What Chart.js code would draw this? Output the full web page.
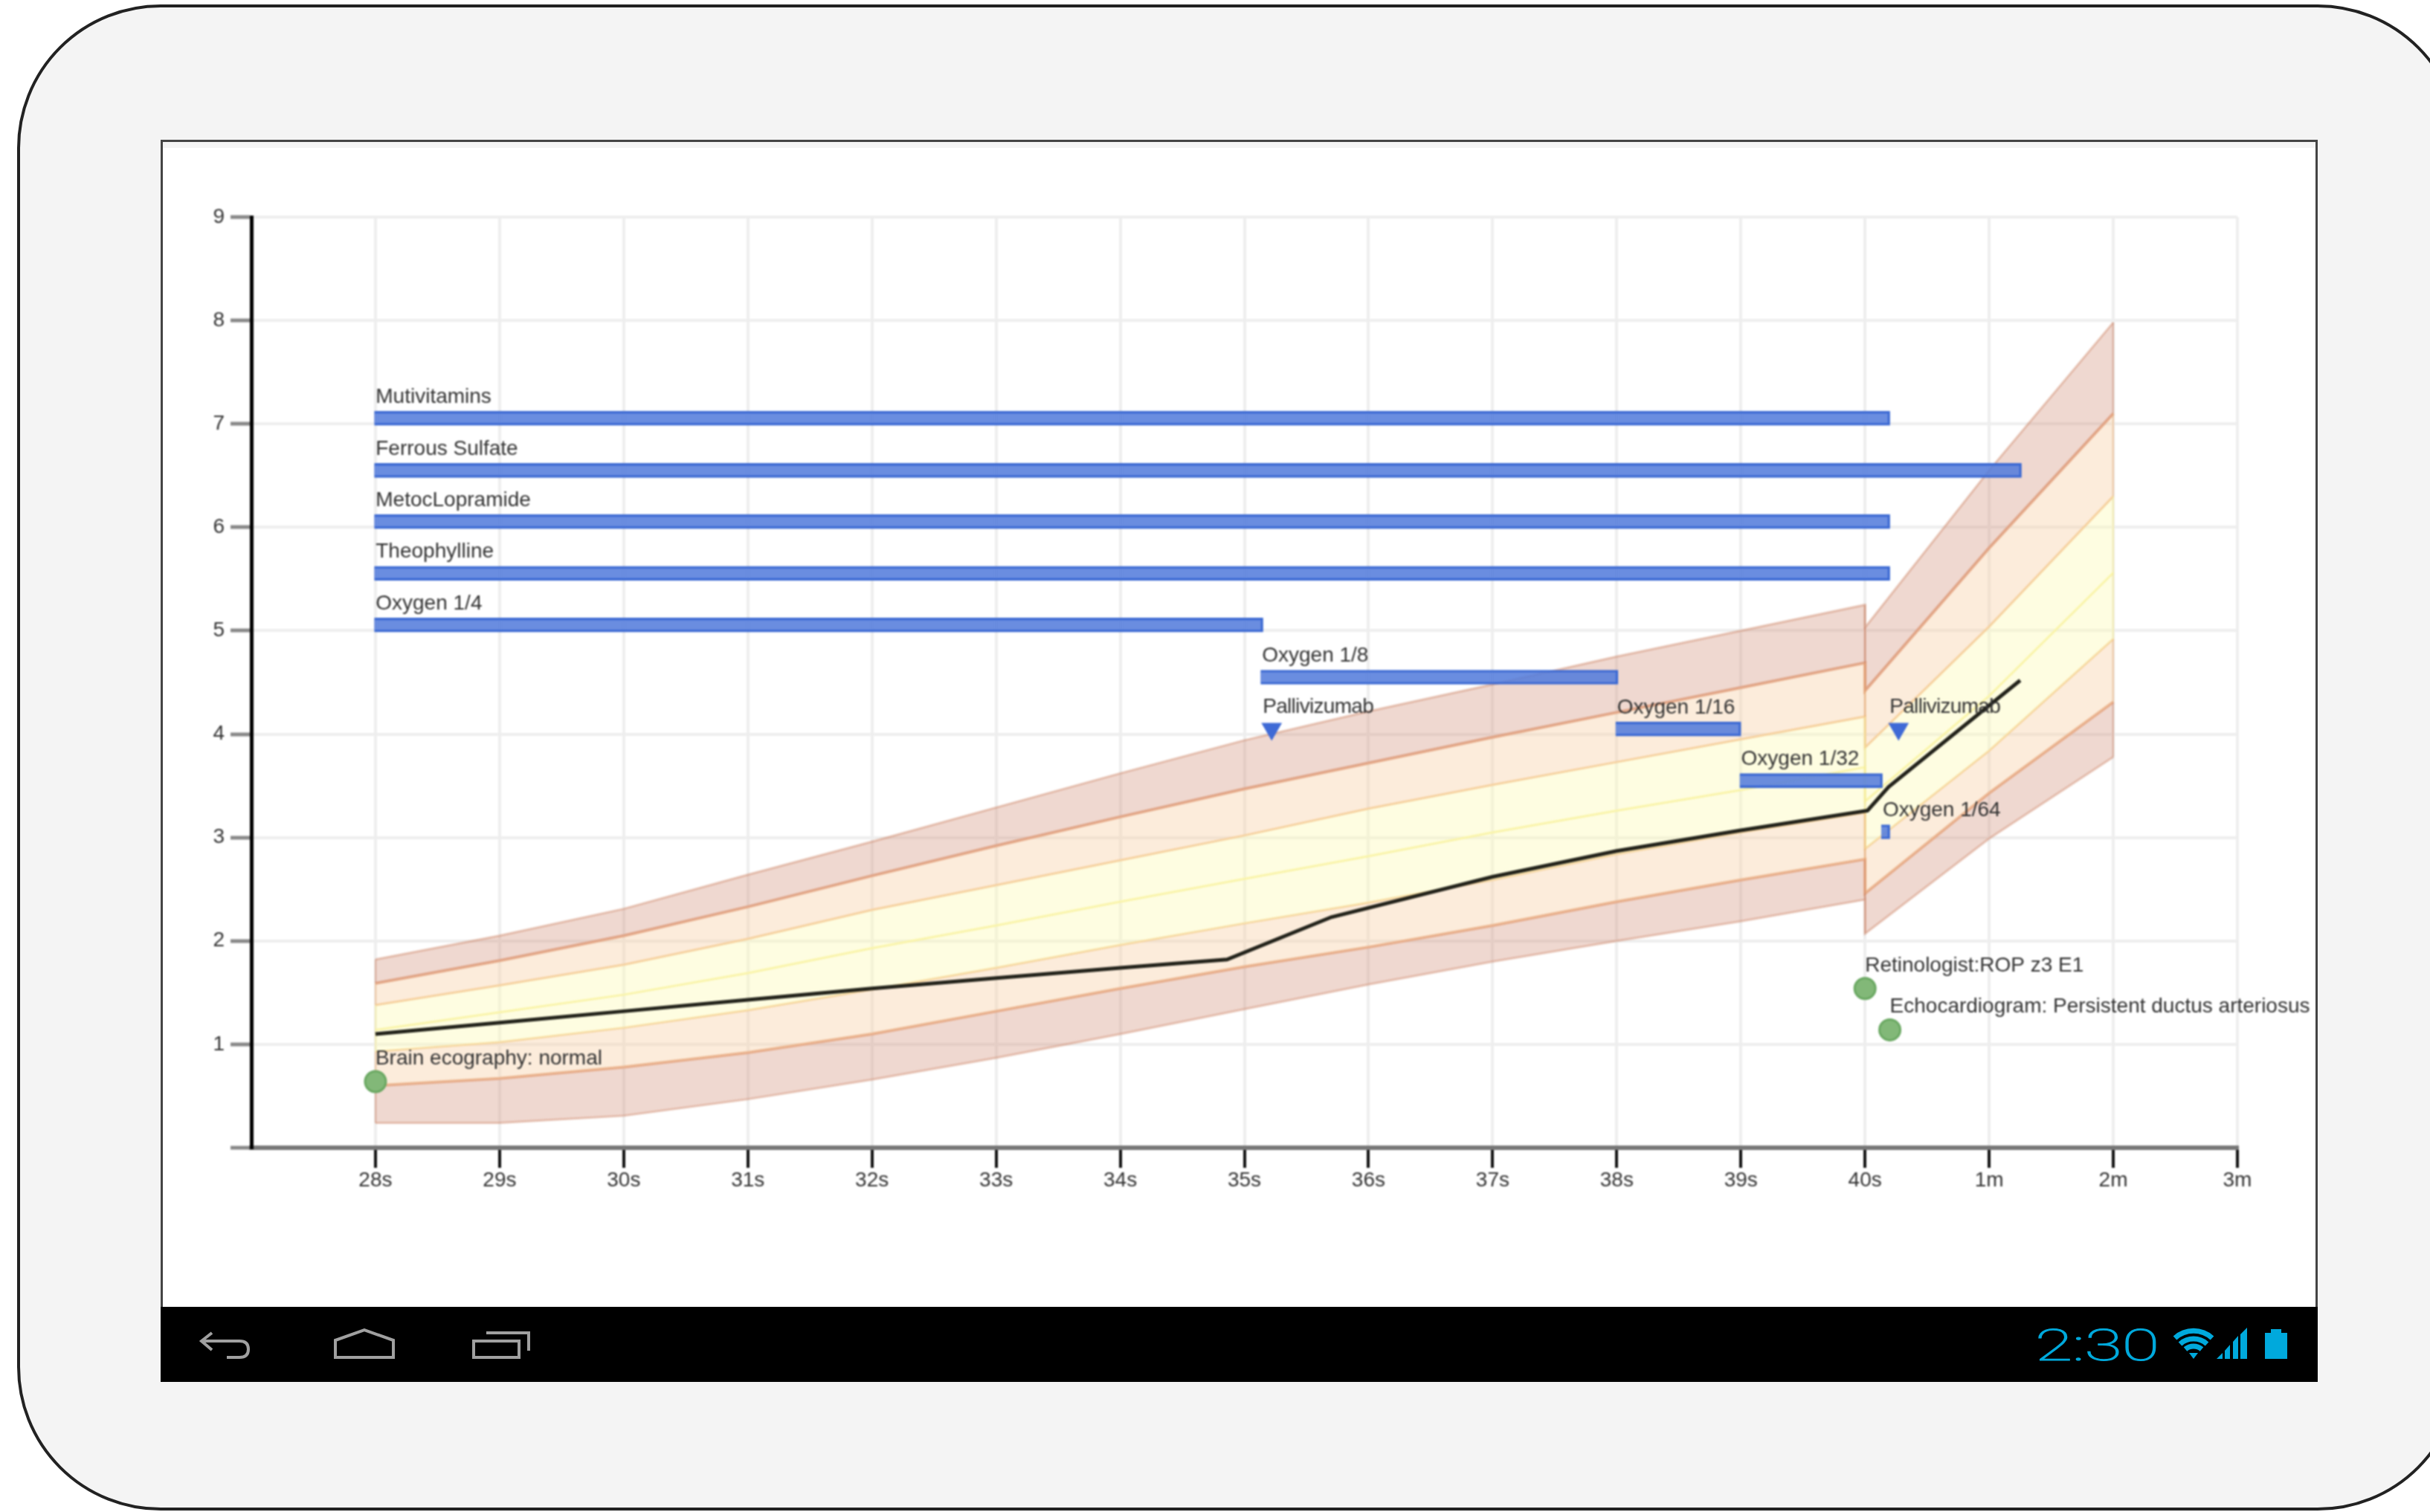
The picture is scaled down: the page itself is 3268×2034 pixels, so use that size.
<!DOCTYPE html>
<html>
<head>
<meta charset="utf-8">
<title>Growth chart</title>
<script src="https://cdn.jsdelivr.net/npm/chart.js@4.4.1/dist/chart.umd.min.js"></script>
<style>
  html, body { margin: 0; padding: 0; width: 3268px; height: 2034px; overflow: hidden; background: #fff; }
  #device { position: absolute; left: 23px; top: 6px; width: 3287px; height: 2026px; box-sizing: border-box;
            border: 4px solid #222; border-radius: 193px; background: #f4f4f4; }
  #screen { position: absolute; left: 216px; top: 188px; width: 2901px; height: 1571px; box-sizing: border-box;
            border: 3px solid #444; border-bottom: 0; background: #fff; }
  #strip { position: absolute; left: 219px; top: 191px; width: 2895px; height: 8px; background: #f4f4f4; }
  #nav { position: absolute; left: 0; top: 0; filter: blur(0.7px); }
  canvas { position: absolute; left: 0; top: 0; filter: blur(1.1px); }
</style>
</head>
<body>
<div id="device"></div>
<div id="screen"></div>
<div id="strip"></div>
<svg id="nav" width="3268" height="2034" xmlns="http://www.w3.org/2000/svg">
  <rect x="216" y="1758" width="2901" height="101" fill="#000"/>
  <g fill="none" stroke="#a0a0a0" stroke-width="4">
    <path d="M285 1793 L271 1804 L285 1816 M271 1804 H322 Q334 1804 334 1815 Q334 1826 322 1826 H305"/>
    <path d="M451 1826 V1803 L490 1789 L529 1803 V1826 Z"/>
    <path d="M637 1804 H698 V1826 H637 Z M654 1793 H711 V1817"/>
  </g>
  <text x="2737" y="1830" font-family="Roboto" font-weight="100" font-size="59" fill="#00a9dc" stroke="#00a9dc" stroke-width="1.2"
        textLength="167" lengthAdjust="spacingAndGlyphs">2:30</text>
  <g fill="none" stroke="#00a9dc" stroke-width="7">
    <path d="M2925 1800 A37 37 0 0 1 2975 1800"/>
    <path d="M2932 1808 A27 27 0 0 1 2968 1808"/>
    <path d="M2939 1815 A17 17 0 0 1 2961 1815"/>
  </g>
  <path d="M2944 1820 H2956 L2950 1828 Z" fill="#00a9dc"/>
  <g fill="#00a9dc">
    <path d="M2981 1828 L2989 1820 V1828 Z"/>
    <path d="M2992 1817 L2999 1809 V1828 H2992 Z"/>
    <path d="M3003 1805 L3010 1797 V1828 H3003 Z"/>
    <path d="M3013 1795 L3022 1786 V1828 H3013 Z"/>
    <path d="M3046 1793 H3054 V1788 H3068 V1793 H3076 V1828 H3046 Z"/>
  </g>
</svg>
<canvas id="growthChart" width="3268" height="2034"></canvas>

<script>
// Tick labels of the horizontal axis, position 0 is 28s
const xTickLabels = ["28s", "29s", "30s", "31s", "32s", "33s", "34s", "35s", "36s", "37s", "38s", "39s", "40s", "1m", "2m", "3m"];

// Percentile curves, the curves break at 40s so that position is there twice
const curveX = [0, 1, 2, 3, 4, 5, 6, 7, 8, 9, 10, 11, 12, 12, 13, 14];
const outerTop = [1.82, 2.05, 2.31, 2.64, 2.96, 3.29, 3.62, 3.94, 4.22, 4.48, 4.75, 5.00, 5.25, 5.03, 6.55, 7.98];
const middleTop = [1.59, 1.81, 2.05, 2.33, 2.63, 2.92, 3.20, 3.47, 3.72, 3.97, 4.21, 4.45, 4.69, 4.42, 5.80, 7.10];
const innerTop = [1.38, 1.57, 1.77, 2.02, 2.30, 2.54, 2.78, 3.02, 3.28, 3.51, 3.73, 3.95, 4.17, 3.87, 5.04, 6.30];
const median = [1.14, 1.31, 1.48, 1.69, 1.93, 2.15, 2.38, 2.60, 2.82, 3.05, 3.26, 3.46, 3.68, 3.35, 4.37, 5.56];
const innerBottom = [0.93, 1.02, 1.16, 1.33, 1.53, 1.74, 1.96, 2.17, 2.37, 2.59, 2.84, 3.05, 3.24, 2.89, 3.84, 4.92];
const middleBottom = [0.60, 0.67, 0.78, 0.92, 1.10, 1.32, 1.54, 1.75, 1.94, 2.15, 2.38, 2.59, 2.79, 2.46, 3.43, 4.31];
const outerBottom = [0.24, 0.24, 0.31, 0.47, 0.66, 0.87, 1.10, 1.34, 1.58, 1.80, 2.00, 2.19, 2.40, 2.07, 2.99, 3.78];

// Patient curve
const patientX = [0, 1, 2, 3, 4, 5, 6, 6.86, 7.7, 9, 10, 11, 12.02, 12.19, 13.25];
const patientY = [1.10, 1.21, 1.32, 1.43, 1.54, 1.64, 1.74, 1.82, 2.23, 2.62, 2.87, 3.07, 3.26, 3.49, 4.52];

// Treatments
const treatmentNames = ["Mutivitamins", "Ferrous Sulfate", "MetocLopramide", "Theophylline", "Oxygen 1/4", "Oxygen 1/8", "Oxygen 1/16", "Oxygen 1/32", "Oxygen 1/64"];
const treatmentStart = [-0.01, -0.01, -0.01, -0.01, -0.01, 7.13, 9.99, 10.99, 12.13];
const treatmentEnd = [12.20, 13.26, 12.20, 12.20, 7.15, 10.01, 11.0, 12.14, 12.20];
const treatmentRow = [7.055, 6.55, 6.055, 5.555, 5.055, 4.55, 4.05, 3.55, 3.055];

// Doses
const doseNames = ["Pallivizumab", "Pallivizumab"];
const doseX = [7.22, 12.27];
const doseY = [4.05, 4.05];

// Examinations
const examNames = ["Brain ecography: normal", "Retinologist:ROP z3 E1", "Echocardiogram: Persistent ductus arteriosus"];
const examX = [0, 12, 12.2];
const examY = [0.64, 1.54, 1.14];

const OUTER_FILL = "rgba(212,150,127,0.37)";
const MIDDLE_FILL = "rgba(248,205,160,0.38)";
const INNER_FILL = "rgba(252,250,177,0.38)";

function toPoints(xs, ys) {
  return xs.map((x, i) => ({ x: x, y: ys[i] }));
}

function curve(values, color, width, fill, fillColor) {
  return {
    type: "line",
    data: toPoints(curveX, values),
    borderColor: color,
    borderWidth: width,
    backgroundColor: fillColor,
    fill: fill,
    pointRadius: 0,
    tension: 0,
    order: 5
  };
}

// Vertical closing edge of a band, at one index of the curve arrays
function bandEdge(index, upper, lower, color) {
  return {
    type: "line",
    data: [{ x: curveX[index], y: upper[index] }, { x: curveX[index], y: lower[index] }],
    borderColor: color,
    borderWidth: 2,
    pointRadius: 0,
    fill: false,
    order: 4
  };
}

const edgeDatasets = [];
[0, 12, 13, 15].forEach(index => {
  edgeDatasets.push(bandEdge(index, outerTop, middleTop, "rgba(205,130,100,0.5)"));
  edgeDatasets.push(bandEdge(index, middleTop, innerTop, "rgba(235,170,110,0.5)"));
  edgeDatasets.push(bandEdge(index, innerTop, innerBottom, "rgba(245,235,150,0.6)"));
  edgeDatasets.push(bandEdge(index, innerBottom, middleBottom, "rgba(235,170,110,0.5)"));
  edgeDatasets.push(bandEdge(index, middleBottom, outerBottom, "rgba(205,130,100,0.5)"));
});

// Labels over the marks, written next to the library's own scales
const markLabels = {
  id: "markLabels",
  afterDatasetsDraw(chart) {
    const { ctx, scales } = chart;
    ctx.save();
    ctx.font = "28px 'Liberation Sans'";
    ctx.fillStyle = "#333";
    ctx.textAlign = "left";
    ctx.textBaseline = "alphabetic";
    treatmentNames.forEach((name, i) => {
      ctx.fillText(name, scales.x.getPixelForValue(treatmentStart[i]) + 2, scales.y.getPixelForValue(treatmentRow[i]) - 21);
    });
    ctx.letterSpacing = "-0.7px";
    doseNames.forEach((name, i) => {
      ctx.fillText(name, scales.x.getPixelForValue(doseX[i]) - 12, scales.y.getPixelForValue(doseY[i]) - 22);
    });
    ctx.letterSpacing = "0px";
    examNames.forEach((name, i) => {
      ctx.fillText(name, scales.x.getPixelForValue(examX[i]), scales.y.getPixelForValue(examY[i]) - 23);
    });
    ctx.restore();
  }
};

new Chart(document.getElementById("growthChart"), {
  data: {
    datasets: [
      curve(outerTop, "rgba(205,130,100,0.45)", 3, "+1", OUTER_FILL),
      curve(middleTop, "#e6ab8a", 4, "+1", MIDDLE_FILL),
      curve(innerTop, "#f6d3a0", 3, "+1", INNER_FILL),
      curve(median, "#f9f3a8", 3, "+1", INNER_FILL),
      curve(innerBottom, "#f6d3a0", 3, "+1", MIDDLE_FILL),
      curve(middleBottom, "#e6ab8a", 4, "+1", OUTER_FILL),
      curve(outerBottom, "rgba(205,130,100,0.45)", 3, false, undefined),
      ...edgeDatasets,
      {
        type: "bar",
        indexAxis: "y",
        grouped: false,
        barThickness: 19,
        data: treatmentRow.map((row, i) => ({ x: [treatmentStart[i], treatmentEnd[i]], y: row })),
        backgroundColor: "rgba(85,125,220,0.88)",
        borderColor: "#3a68d2",
        borderWidth: 3,
        order: 3
      },
      {
        type: "line",
        data: toPoints(patientX, patientY),
        borderColor: "#22221a",
        borderWidth: 5,
        pointRadius: 0,
        tension: 0,
        fill: false,
        order: 2
      },
      {
        type: "line",
        showLine: false,
        data: toPoints(doseX, doseY),
        pointStyle: "triangle",
        pointRotation: 180,
        pointRadius: 16,
        pointBackgroundColor: "#3f6ad6",
        pointBorderWidth: 0,
        order: 1
      },
      {
        type: "line",
        showLine: false,
        data: toPoints(examX, examY),
        pointStyle: "circle",
        pointRadius: 14,
        pointBackgroundColor: "#82b878",
        pointBorderColor: "#6aa862",
        pointBorderWidth: 3,
        order: 1
      }
    ]
  },
  options: {
    responsive: false,
    animation: false,
    devicePixelRatio: 1,
    layout: { padding: { left: 278, right: 259, top: 292, bottom: 430 } },
    plugins: { legend: { display: false }, tooltip: { enabled: false } },
    scales: {
      x: {
        type: "linear",
        min: -1,
        max: 15,
        offset: false,
        afterBuildTicks(scale) {
          scale.ticks = scale.ticks.filter(tick => tick.value >= 0);
        },
        afterFit(scale) {
          scale.height = 60;
        },
        ticks: {
          stepSize: 1,
          autoSkip: false,
          maxRotation: 0,
          padding: 0,
          color: "#333",
          font: { family: "'Liberation Sans'", size: 28 },
          callback: value => xTickLabels[value]
        },
        grid: { offset: false, color: "#eee", lineWidth: 4, tickColor: "#111", tickWidth: 4, tickLength: 27 },
        border: { color: "#777", width: 6 }
      },
      y: {
        type: "linear",
        min: 0,
        max: 9,
        offset: false,
        afterFit(scale) {
          scale.width = 60;
        },
        ticks: {
          stepSize: 1,
          padding: 8,
          color: "#333",
          font: { family: "'Liberation Sans'", size: 28 },
          callback: value => (value === 0 ? "" : value)
        },
        grid: { offset: false, color: "#eee", lineWidth: 4, tickColor: "#888", tickWidth: 5, tickLength: 28 },
        border: { color: "#000", width: 5 }
      }
    }
  },
  plugins: [markLabels]
});
</script>
</body>
</html>
